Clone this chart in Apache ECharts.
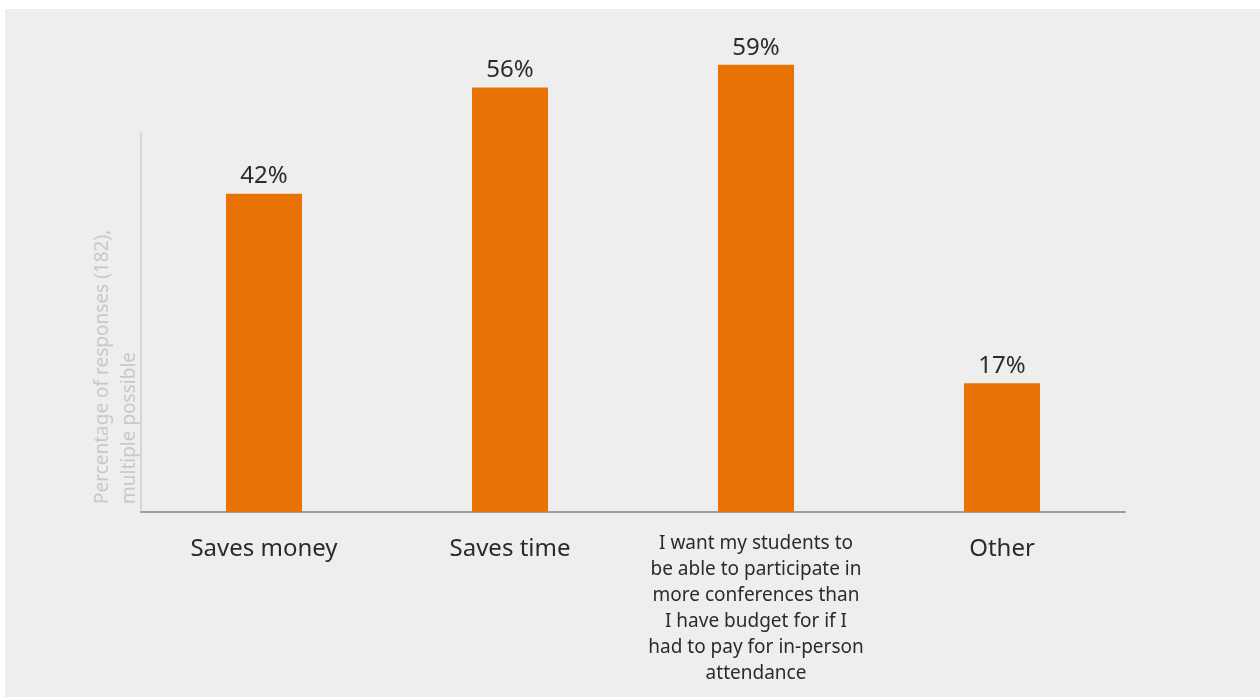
<!DOCTYPE html>
<html>
<head>
<meta charset="utf-8">
<script src="https://cdn.jsdelivr.net/npm/echarts@6/dist/echarts.min.js"></script>
<style>
  html, body { margin: 0; padding: 0; background: #ffffff; }
  #panel { position: absolute; left: 5px; top: 9px; right: 0; bottom: 0; background: #eeeeee; }
  #chart { position: absolute; left: 0; top: 0; width: 1260px; height: 697px; }
</style>
</head>
<body>
<div id="panel"></div>
<div id="chart"></div>
<script>
// Reasons for attending conferences virtually
const categories = [
  'Saves money',
  'Saves time',
  'I want my students to\nbe able to participate in\nmore conferences than\nI have budget for if I\nhad to pay for in-person\nattendance',
  'Other'
];
const shares = [42, 56, 59, 17];
const categoryFontSizes = [24, 24, 19, 24];
const axisTitle = 'Percentage of responses (182),\nmultiple possible';

const chart = echarts.init(document.getElementById('chart'), null, { renderer: 'canvas' });
const fontFamily = '"Noto Sans", "Open Sans", sans-serif';

chart.setOption({
  backgroundColor: 'transparent',
  animation: false,
  textStyle: { fontFamily: fontFamily },
  grid: { left: 141, right: 135, top: 133, bottom: 185 },
  xAxis: {
    type: 'category',
    data: categories.map((c, i) => ({
      value: c,
      textStyle: {
        fontSize: categoryFontSizes[i],
        lineHeight: categoryFontSizes[i] === 19 ? 26 : 36
      }
    })),
    axisLine: { show: true, lineStyle: { color: '#9e9e9e', width: 2 } },
    axisTick: { show: false },
    axisLabel: {
      interval: 0,
      margin: 19,
      color: '#2b2b2b',
      fontFamily: fontFamily,
      align: 'center'
    }
  },
  yAxis: {
    type: 'value',
    min: 0,
    max: 50,
    axisLine: { show: true, lineStyle: { color: '#cccccc', width: 1.5 } },
    axisTick: { show: false },
    axisLabel: { show: false },
    splitLine: { show: false }
  },
  graphic: [{
    type: 'text',
    x: 89,
    y: 504,
    rotation: Math.PI / 2,
    style: {
      text: axisTitle,
      fontSize: 19,
      lineHeight: 27,
      fontFamily: fontFamily,
      fill: '#c8c8c8',
      align: 'left',
      verticalAlign: 'top'
    }
  }],
  series: [{
    type: 'bar',
    data: shares,
    barWidth: 76,
    clip: false,
    itemStyle: { color: '#e87304' },
    label: {
      show: true,
      position: 'top',
      distance: 5,
      formatter: '{c}%',
      fontSize: 24,
      color: '#2b2b2b',
      fontFamily: fontFamily
    }
  }]
});
</script>
</body>
</html>
